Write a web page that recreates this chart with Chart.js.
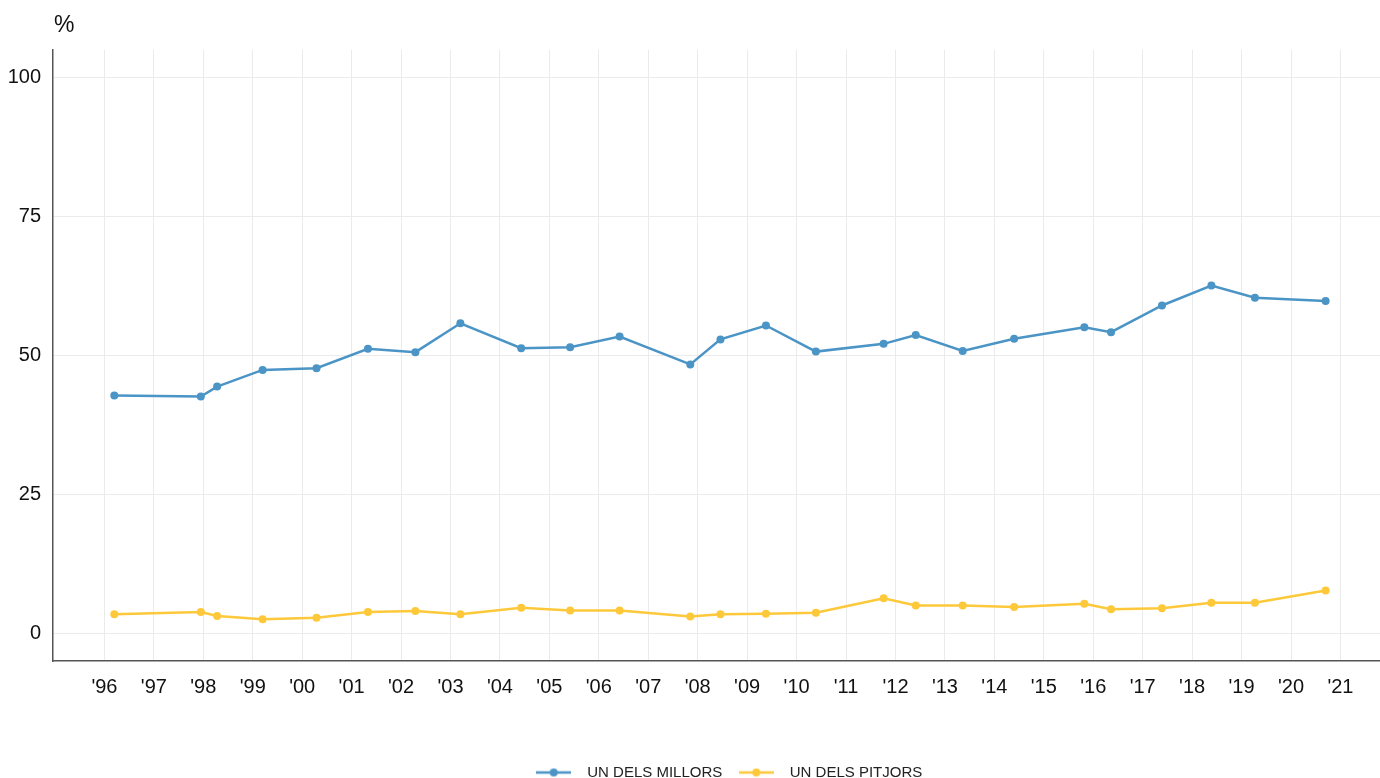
<!DOCTYPE html>
<html lang="ca">
<head>
<meta charset="utf-8">
<title>Un dels millors / Un dels pitjors</title>
<script src="https://cdn.jsdelivr.net/npm/chart.js@4.4.1/dist/chart.umd.min.js"></script>
<style>
  html, body { margin: 0; padding: 0; background: #fff; overflow: hidden; }
  #wrap { width: 1380px; height: 778px; }
</style>
</head>
<body>
<div id="wrap"><canvas id="grafic"></canvas></div>
<script>
// Data de cada onada (any amb fracció)
const dates = [1996.20, 1997.95, 1998.28, 1999.20, 2000.29, 2001.33, 2002.29, 2003.20,
               2004.43, 2005.42, 2006.42, 2007.85, 2008.46, 2009.38, 2010.39, 2011.76,
               2012.41, 2013.36, 2014.40, 2015.82, 2016.36, 2017.39, 2018.39, 2019.27, 2020.70];

// % que respon "un dels millors"
const millors = [42.8, 42.6, 44.4, 47.4, 47.7, 51.2, 50.6, 55.8,
                 51.3, 51.5, 53.4, 48.4, 52.9, 55.4, 50.7, 52.1,
                 53.7, 50.8, 53.0, 55.1, 54.2, 59.0, 62.6, 60.4, 59.8];

// % que respon "un dels pitjors"
const pitjors = [3.4, 3.8, 3.1, 2.5, 2.8, 3.8, 4.0, 3.4,
                 4.6, 4.1, 4.1, 3.0, 3.4, 3.5, 3.7, 6.3,
                 5.0, 5.0, 4.7, 5.3, 4.3, 4.5, 5.5, 5.5, 7.7];

const anysEix = [1996, 1997, 1998, 1999, 2000, 2001, 2002, 2003, 2004, 2005, 2006, 2007, 2008,
                 2009, 2010, 2011, 2012, 2013, 2014, 2015, 2016, 2017, 2018, 2019, 2020, 2021];
const valorsEix = [0, 25, 50, 75, 100];

const BLAU = '#4b94c6';
const GROC = '#fdc93a';
const FONT = '"Liberation Sans", Arial, Helvetica, sans-serif';

// Mostra de llegenda: línia amb punt
function mostraLlegenda(color) {
    const c = document.createElement('canvas');
    c.width = 35;
    c.height = 10;
    const ctx = c.getContext('2d');
    ctx.strokeStyle = color;
    ctx.lineWidth = 2.5;
    ctx.beginPath();
    ctx.moveTo(0, 5);
    ctx.lineTo(35, 5);
    ctx.stroke();
    ctx.fillStyle = color;
    ctx.beginPath();
    ctx.arc(17.5, 5, 4, 0, Math.PI * 2);
    ctx.fill();
    return c;
}

function punts(valors) {
    return dates.map((d, i) => ({ x: d, y: valors[i] }));
}

// Etiqueta "%" a dalt de l'eix i llegenda desplaçada cap a la zona del gràfic
const etiquetaUnitat = {
    id: 'etiquetaUnitat',
    afterLayout(chart) {
        const lg = chart.legend;
        lg.left += 35;
        lg.right += 35;
        lg.top += 16;
        lg.bottom += 16;
    },
    afterDraw(chart) {
        const ctx = chart.ctx;
        ctx.save();
        ctx.font = '23px ' + FONT;
        ctx.fillStyle = '#111';
        ctx.textAlign = 'left';
        ctx.textBaseline = 'alphabetic';
        ctx.fillText('%', 54, 32);
        ctx.restore();
    }
};

const ctx = document.getElementById('grafic').getContext('2d');
new Chart(ctx, {
    type: 'line',
    data: {
        datasets: [{
            label: 'UN DELS MILLORS',
            data: punts(millors),
            borderColor: BLAU,
            backgroundColor: BLAU,
            borderWidth: 2.5,
            pointRadius: 4,
            pointBorderWidth: 0,
            tension: 0
        }, {
            label: 'UN DELS PITJORS',
            data: punts(pitjors),
            borderColor: GROC,
            backgroundColor: GROC,
            borderWidth: 2.5,
            pointRadius: 4,
            pointBorderWidth: 0,
            tension: 0
        }]
    },
    options: {
        responsive: true,
        maintainAspectRatio: false,
        animation: false,
        layout: {
            autoPadding: false,
            padding: { top: 50, left: 0, right: 0, bottom: 4 }
        },
        plugins: {
            legend: {
                position: 'bottom',
                labels: {
                    usePointStyle: true,
                    pointStyleWidth: 52,
                    padding: 8,
                    color: '#222',
                    font: { family: FONT, size: 15 },
                    generateLabels(chart) {
                        return chart.data.datasets.map((ds, i) => ({
                            text: ds.label,
                            fillStyle: ds.borderColor,
                            strokeStyle: ds.borderColor,
                            fontColor: '#222',
                            pointStyle: mostraLlegenda(ds.borderColor),
                            lineWidth: 0,
                            hidden: false,
                            datasetIndex: i
                        }));
                    }
                }
            },
            tooltip: { enabled: false }
        },
        scales: {
            x: {
                type: 'linear',
                min: 1994.96,
                max: 2021.8,
                afterBuildTicks(scale) {
                    scale.ticks = anysEix.map(v => ({ value: v }));
                },
                afterFit(scale) {
                    scale.height = 80;
                    scale.paddingLeft = 0;
                    scale.paddingRight = 0;
                },
                ticks: {
                    autoSkip: false,
                    maxRotation: 0,
                    padding: 14,
                    color: '#111',
                    font: { family: FONT, size: 20 },
                    callback: v => "'" + String(v).slice(2)
                },
                grid: { color: '#ebebeb', lineWidth: 1, drawTicks: false },
                border: { color: '#555', width: 1.5 }
            },
            y: {
                min: -5,
                max: 105,
                afterBuildTicks(scale) {
                    scale.ticks = valorsEix.map(v => ({ value: v }));
                },
                afterFit(scale) {
                    scale.width = 53;
                    scale.paddingTop = 0;
                    scale.paddingBottom = 0;
                },
                ticks: {
                    padding: 12,
                    color: '#111',
                    font: { family: FONT, size: 20 }
                },
                grid: { color: '#ebebeb', lineWidth: 1, drawTicks: false },
                border: { color: '#555', width: 1.5 }
            }
        }
    },
    plugins: [etiquetaUnitat]
});
</script>
</body>
</html>
